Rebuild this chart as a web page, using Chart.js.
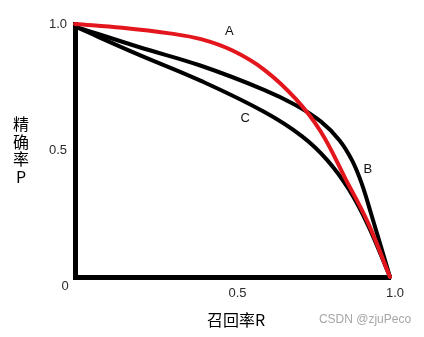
<!DOCTYPE html>
<html>
<head>
<meta charset="utf-8">
<script src="https://cdn.jsdelivr.net/npm/chart.js@4"></script>
<style>
  html, body { margin: 0; padding: 0; background: #fff; }
  #pr { display: block; }
</style>
</head>
<body>
<canvas id="pr" width="424" height="337"></canvas>
<script>
// (recall on x, precision on y)
const recallA = [0, 0.15, 0.3, 0.4, 0.5, 0.6, 0.7, 0.78, 0.86, 0.93, 1.0];
const precisionA = [1.0, 0.985, 0.963, 0.94, 0.895, 0.82, 0.705, 0.575, 0.385, 0.215, 0];

const recallB = [0, 0.2, 0.4, 0.6, 0.7, 0.78, 0.84, 0.88, 0.91, 0.94, 1.0];
const precisionB = [0.99, 0.91, 0.835, 0.74, 0.68, 0.615, 0.54, 0.46, 0.37, 0.25, 0];

const recallC = [0, 0.2, 0.4, 0.6, 0.72, 0.8, 0.87, 0.93, 1.0];
const precisionC = [0.99, 0.88, 0.775, 0.653, 0.557, 0.463, 0.345, 0.205, 0];

const curveNames = ["A", "B", "C"];
const xTicks = [0.5, 1.0];
const yTicks = [0.5, 1.0];

const pts = (xs, ys) => xs.map((x, i) => ({ x, y: ys[i] }));

const tickFont = { family: "'Liberation Sans', Arial, sans-serif", size: 13 };
const cjk = "'Noto Sans CJK SC', 'Noto Sans', sans-serif";

// text that sits around the plot: axis titles, curve names, corner 0, watermark
const annotations = {
  id: "annotations",
  afterDraw(chart) {
    const { ctx, scales: { x, y } } = chart;
    ctx.save();
    ctx.textAlign = "center";
    ctx.textBaseline = "middle";

    ctx.fillStyle = "#2b2b2b";
    ctx.font = "13px 'Liberation Sans', Arial, sans-serif";
    ctx.fillText("0", x.getPixelForValue(0) - 10, y.getPixelForValue(0) + 9);

    // curve names
    ctx.fillStyle = "#111";
    ctx.fillText(curveNames[0], x.getPixelForValue(0.49), y.getPixelForValue(0.97));
    ctx.fillText(curveNames[1], x.getPixelForValue(0.93), y.getPixelForValue(0.425));
    ctx.fillText(curveNames[2], x.getPixelForValue(0.54), y.getPixelForValue(0.625));

    // y title, stacked vertically
    ctx.fillStyle = "#000";
    ctx.font = "16px " + cjk;
    const yTitle = ["精", "确", "率", "P"];
    yTitle.forEach((ch, i) => ctx.fillText(ch, 21, 124 + i * 17.5));

    // x title
    ctx.fillText("召回率R", 236, 320);

    // watermark
    ctx.fillStyle = "#a6a6a6";
    ctx.font = "12px 'Liberation Sans', Arial, sans-serif";
    ctx.fillText("CSDN @zjuPeco", 365, 320);
    ctx.restore();
  }
};

const lineStyle = { borderWidth: 4, pointRadius: 0, tension: 0.4, clip: false, fill: false, borderCapStyle: "round" };

new Chart(document.getElementById("pr"), {
  type: "scatter",
  data: {
    datasets: [
      { label: curveNames[0], data: pts(recallA, precisionA), borderColor: "#e4161d", showLine: true, order: 0, ...lineStyle },
      { label: curveNames[1], data: pts(recallB, precisionB), borderColor: "#000", showLine: true, order: 1, ...lineStyle },
      { label: curveNames[2], data: pts(recallC, precisionC), borderColor: "#000", showLine: true, order: 2, ...lineStyle },
    ],
  },
  options: {
    responsive: false,
    animation: false,
    layout: { padding: { top: 24, right: 34, left: 0, bottom: 0 } },
    plugins: { legend: { display: false }, tooltip: { enabled: false } },
    scales: {
      x: {
        type: "linear", min: 0, max: 1,
        grid: { display: false, drawTicks: false },
        border: { display: true, color: "#000", width: 5 },
        afterBuildTicks: (s) => { s.ticks = xTicks.map((v) => ({ value: v })); },
        afterFit: (s) => { s.height = 60; },
        ticks: { padding: 9, labelOffset: 5, color: "#2b2b2b", font: tickFont, callback: (v) => v.toFixed(1) },
      },
      y: {
        type: "linear", min: 0, max: 1,
        grid: { display: false, drawTicks: false },
        border: { display: true, color: "#000", width: 5 },
        afterBuildTicks: (s) => { s.ticks = yTicks.map((v) => ({ value: v })); },
        afterFit: (s) => { s.width = 75; },
        ticks: { padding: 8, color: "#2b2b2b", font: tickFont, callback: (v) => v.toFixed(1) },
      },
    },
  },
  plugins: [annotations],
});
</script>
</body>
</html>
